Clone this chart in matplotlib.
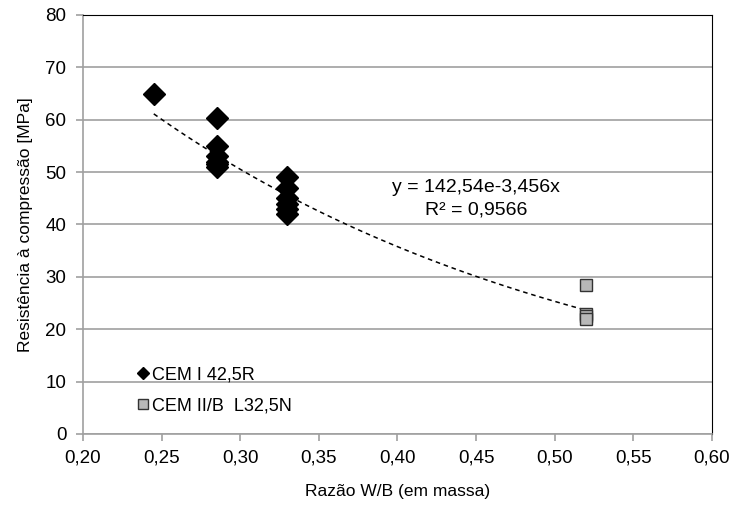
import matplotlib
matplotlib.use('Agg')
import matplotlib.pyplot as plt
import numpy as np

plt.rcParams['font.family'] = ['Liberation Sans', 'DejaVu Sans']

# CEM I 42,5R
wb_cem1 = [0.245, 0.285, 0.285, 0.285, 0.285, 0.285, 0.285,
           0.33, 0.33, 0.33, 0.33, 0.33, 0.33]
fc_cem1 = [65.0, 60.3, 55.0, 53.0, 52.0, 51.5, 51.0,
           49.0, 47.0, 45.0, 44.0, 43.0, 42.0]
# CEM II/B L32,5N
wb_cem2 = [0.52, 0.52, 0.52, 0.52]
fc_cem2 = [28.5, 23.0, 22.5, 22.0]

fit_a, fit_b = 142.54, -3.456
fit_range = (0.245, 0.52)

grey = '#a0a0a0'
fig = plt.figure(figsize=(7.34, 5.12), dpi=100)
ax = fig.add_axes([83/734, 1-434/512, 629/734, 419/512])

ax.grid(axis='y', color=grey, lw=1.2)
ax.set_axisbelow(True)

xf = np.linspace(*fit_range, 100)
ax.plot(xf, fit_a*np.exp(fit_b*xf), ls=(0, (3, 2.5)), color='black', lw=1.1, zorder=3)

ax.plot(wb_cem1, fc_cem1, 'D', ms=11, color='black', mec='black', ls='none', label='CEM I 42,5R', zorder=4)
ax.plot(wb_cem2, fc_cem2, 's', ms=8.5, mfc='#b8b8b8', mec='#333333', mew=1, ls='none', label='CEM II/B  L32,5N', zorder=4)

ax.text(0.4499, 47.0, 'y = 142,54e-3,456x', ha='center', va='center', fontsize=14)
ax.text(0.4499, 42.8, 'R² = 0,9566', ha='center', va='center', fontsize=14)

ax.set_xlim(0.20, 0.60)
ax.set_ylim(0, 80)
xt = np.arange(0.20, 0.601, 0.05)
ax.set_xticks(xt)
ax.set_xticklabels([f'{v:.2f}'.replace('.', ',') for v in xt])
ax.set_yticks(range(0, 81, 10))
ax.tick_params(labelsize=13.5, direction='out', length=5, color=grey, width=1.2)
ax.tick_params(axis='x', pad=6)
ax.tick_params(axis='y', pad=7)
ax.set_xlabel('Razão W/B (em massa)', fontsize=12.5, labelpad=13)
ax.set_ylabel('Resistência à compressão [MPa]', fontsize=12.5, labelpad=9)

for s in ['top', 'right']:
    ax.spines[s].set_color('black')
for s in ['left', 'bottom']:
    ax.spines[s].set_color(grey)
    ax.spines[s].set_linewidth(1.2)

h, l = ax.get_legend_handles_labels()
h[0] = plt.Line2D([], [], marker='D', ms=6.6, color='black', ls='none')
h[1] = plt.Line2D([], [], marker='s', ms=7, mfc='#b8b8b8', mec='#333333', ls='none')
ax.legend(h, l, loc='lower left', bbox_to_anchor=(0.07, 0.025), frameon=False,
          fontsize=13, handletextpad=0.1, handlelength=0.8, labelspacing=0.8,
          borderpad=0)

fig.savefig('out.png', dpi=100)
